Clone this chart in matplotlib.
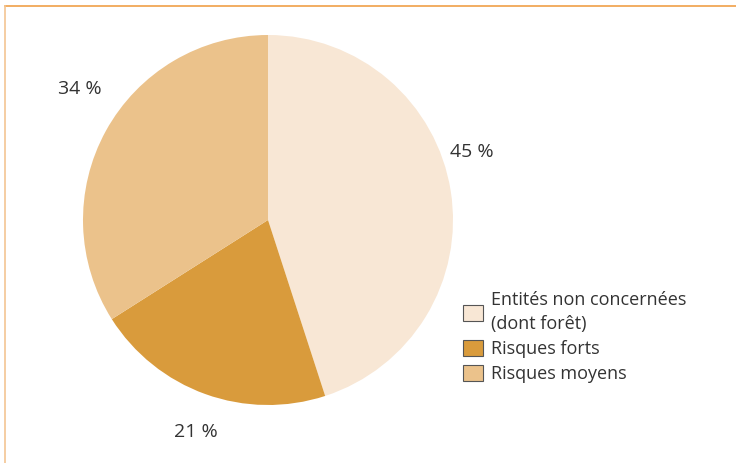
import matplotlib
matplotlib.use("Agg")
import matplotlib.pyplot as plt
import numpy as np
from matplotlib.patches import Patch
from matplotlib.lines import Line2D

categories = ["Entités non concernées\n(dont forêt)", "Risques forts", "Risques moyens"]
values = [45, 21, 34]
pct_labels = ["45 %", "21 %", "34 %"]
colors = ["#f8e7d5", "#d99b3c", "#ebc28b"]

# label placement styling (angle offset in degrees, radial distance)
label_angle_offsets = [9.4, 1.0, -6.1]
label_distances = [1.16, 1.21, 1.24]

plt.rcParams['font.family'] = ['Open Sans', 'DejaVu Sans']

W, H = 736, 463
fig = plt.figure(figsize=(W / 100, H / 100), dpi=100)

cx, cy, r = 268, 463 - 220, 185
ax = fig.add_axes([(cx - r) / W, (cy - r) / H, 2 * r / W, 2 * r / H])
wedges, _ = ax.pie(values, colors=colors, startangle=90, counterclock=False,
                   radius=1, wedgeprops=dict(linewidth=0))
for w, lab, off, d in zip(wedges, pct_labels, label_angle_offsets, label_distances):
    mid = np.deg2rad((w.theta1 + w.theta2) / 2 + off)
    ax.text(d * np.cos(mid), d * np.sin(mid), lab, ha="center", va="center",
            fontsize=14, color="#333333", clip_on=False)
ax.set_xlim(-1, 1)
ax.set_ylim(-1, 1)
ax.set_aspect('equal')
ax.axis('off')

handles = [Patch(facecolor=c, edgecolor="#555555", linewidth=0.8) for c in colors]
leg = fig.legend(handles, categories, loc="upper left",
                 bbox_to_anchor=(454 / W, 1 - 282 / H), frameon=False,
                 fontsize=13, labelcolor="#333333", handlelength=1.1, handleheight=0.95,
                 handletextpad=0.45, labelspacing=0.38, borderpad=0)
for t in leg.get_texts():
    t.set_linespacing(1.45)

# frame lines
fig.add_artist(Line2D([5 / W, 1], [1 - 6 / H, 1 - 6 / H], color="#f0a048", linewidth=1.2,
                      transform=fig.transFigure))
fig.add_artist(Line2D([5 / W, 5 / W], [0, 1 - 6 / H], color="#f3c592", linewidth=1.2,
                      transform=fig.transFigure))

fig.savefig("out.png", dpi=100)
